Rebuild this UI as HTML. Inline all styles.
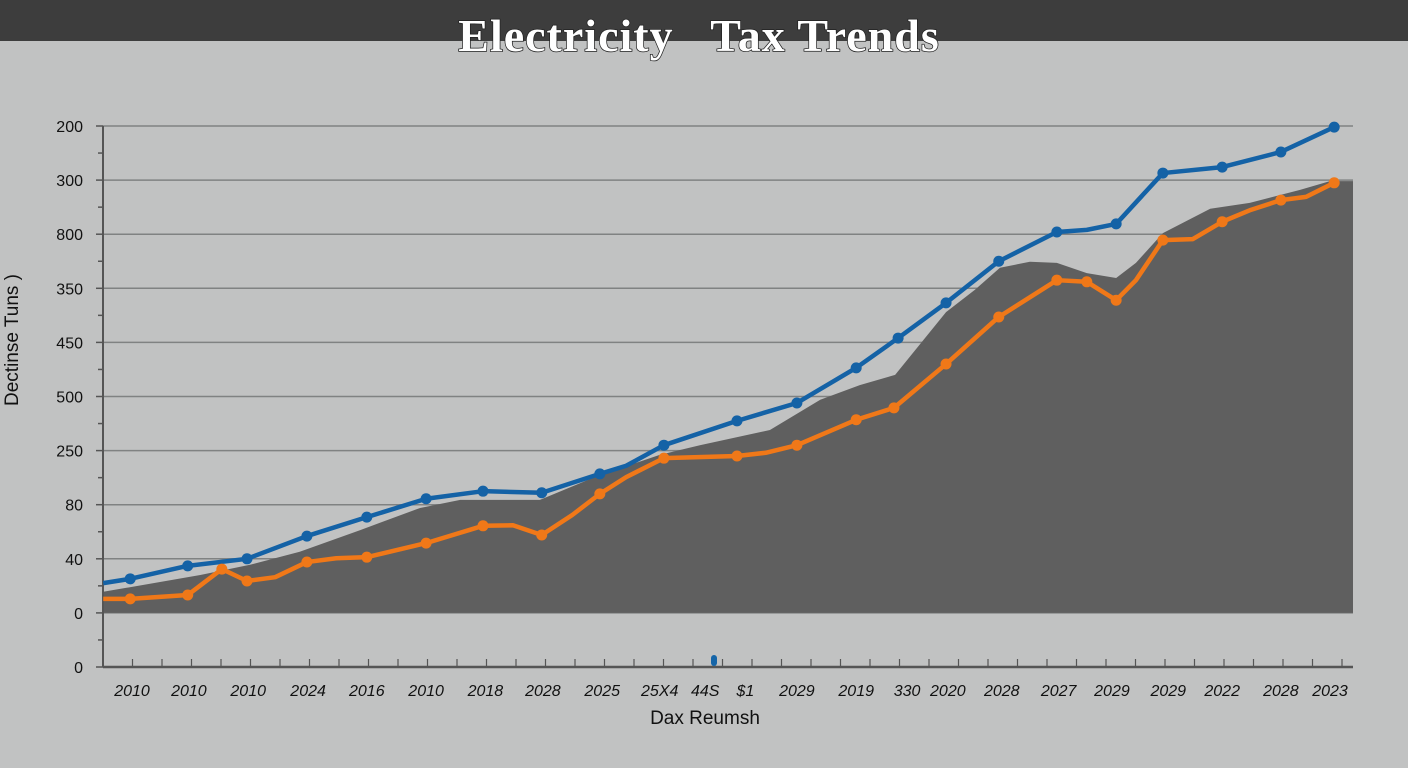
<!DOCTYPE html>
<html><head><meta charset="utf-8"><style>
html,body{margin:0;padding:0;width:1408px;height:768px;overflow:hidden;background:#c1c2c2;}
svg{display:block}
</style></head><body>
<svg id="chart" width="1408" height="768" xmlns="http://www.w3.org/2000/svg">
<rect x="0" y="0" width="1408" height="768" fill="#c1c2c2"/>
<rect x="0" y="0" width="1408" height="41" fill="#3d3d3d"/>
<text x="699" y="51" text-anchor="middle" font-family="Liberation Serif, serif" font-size="46" font-weight="bold" letter-spacing="1" fill="#fff" stroke="#222" stroke-width="1.5" paint-order="stroke" xml:space="preserve">Electricity   Tax Trends</text>
<g id="grid"></g>
<g id="area"></g>
<g id="axes"></g>
<g id="series"></g>
<text transform="translate(18,340) rotate(-90)" text-anchor="middle" font-family="Liberation Sans, sans-serif" font-size="19" fill="#111">Dectinse Tuns )</text>
<text x="705" y="724" text-anchor="middle" font-family="Liberation Sans, sans-serif" font-size="19" fill="#111">Dax Reumsh</text>
<rect x="711" y="655" width="6" height="11" rx="3" fill="#1565a8"/>
</svg>
<script>
const yTickLabels=["0","0","40","80","250","500","450","350","800","300","200"];
const xTickLabels=["2010","2010","2010","2024","2016","2010","2018","2028","2025","25X4","44S","$1","2029","2019","330","2020","2028","2027","2029","2029","2022","2028","2023"];
const xLabelPos=[0,0.95,1.94,2.94,3.92,4.91,5.9,6.86,7.85,8.81,9.57,10.24,11.1,12.09,12.94,13.62,14.52,15.47,16.36,17.3,18.2,19.18,20.0];
const blueT=[-0.48,-0.03,0.93,1.92,2.92,3.92,4.91,5.86,6.84,7.81,8.25,8.88,10.1,11.1,12.09,12.79,13.59,14.47,15.44,15.94,16.43,17.21,18.2,19.18,20.07];
const blueV=[15.5,16.3,18.7,20.0,24.2,27.7,31.1,32.5,32.2,35.7,37.2,41.0,45.5,48.8,55.3,60.8,67.3,75.0,80.4,80.8,81.9,91.3,92.4,95.2,99.8];
const blueM=[0,1,1,1,1,1,1,1,1,1,0,1,1,1,1,1,1,1,1,0,1,1,1,1,1];
const orangeT=[-0.48,-0.03,0.93,1.5,1.92,2.39,2.92,3.41,3.92,4.91,5.86,6.36,6.84,7.35,7.81,8.25,8.88,10.1,10.58,11.1,12.09,12.72,13.59,14.47,15.44,15.94,16.43,16.76,17.21,17.71,18.2,18.68,19.18,19.6,20.07];
const orangeV=[12.6,12.6,13.3,18.1,15.9,16.6,19.4,20.1,20.3,22.9,26.1,26.2,24.4,28.1,32.0,35.1,38.6,39.0,39.6,41.0,45.7,47.9,56.0,64.7,71.5,71.2,67.8,71.5,78.9,79.1,82.3,84.5,86.3,86.9,89.5];
const orangeM=[0,1,1,1,1,0,1,0,1,1,1,0,1,0,1,0,1,1,0,1,1,1,1,1,1,1,1,0,1,0,1,0,1,0,1];
const areaT=[-0.48,1.14,1.97,2.8,3.81,4.81,5.48,6.81,7.81,8.81,9.48,10.65,11.49,12.15,12.74,13.59,14.07,14.49,14.99,15.44,15.94,16.43,16.76,17.21,18.0,18.66,19.5,20.0,20.38];
const areaV=[13.9,17.0,18.9,21.3,25.3,29.4,30.9,30.9,35.5,39.2,41.0,43.8,49.4,52.1,54.0,65.6,69.7,73.8,74.9,74.7,72.8,71.9,74.7,80.2,84.7,85.8,88.2,89.8,89.8];
const areaBase=10;

const NS="http://www.w3.org/2000/svg";
const X0=103,X1=1353,YB=667,YT=126;
function xs(t){return 132+t*59.9;}
function ys(v){return YB-(v/100)*(YB-YT);}
function mk(tag,attrs,parent){const e=document.createElementNS(NS,tag);for(const k in attrs)e.setAttribute(k,attrs[k]);parent.appendChild(e);return e;}
const grid=document.getElementById('grid'),axes=document.getElementById('axes'),area=document.getElementById('area'),series=document.getElementById('series');

yTickLabels.forEach((lab,i)=>{
  const y=ys(i*10);
  if(i>0){const g=mk('line',{x1:X0,x2:X1,y1:y,y2:y,stroke:'#808282','stroke-width':1.5},grid);
  
  }
  const t=mk('line',{x1:X0-7,x2:X0,y1:y,y2:y,stroke:'#555','stroke-width':1.5},axes);
  
  
  if(i<10){const ym=ys(i*10+5);const m=mk('line',{x1:X0-5,x2:X0,y1:ym,y2:ym,stroke:'#555','stroke-width':1.5},axes);
  
  }
  const tx=mk('text',{x:X0-20,y:y+6,'text-anchor':'end','font-family':'Liberation Sans, sans-serif','font-size':16,fill:'#111'},axes);
  tx.textContent=lab;
  
  
});
const yl=mk('line',{x1:X0,x2:X0,y1:YT,y2:YB,stroke:'#555','stroke-width':2},axes);


const xl=mk('line',{x1:X0,x2:X1,y1:YB,y2:YB,stroke:'#555','stroke-width':2.5},axes);


for(let k=0;k<43;k++){const x=X0+29.5*(k+1);if(x>X1)break;
  const t=mk('line',{x1:x,x2:x,y1:YB-8,y2:YB,stroke:'#555','stroke-width':1.2},axes);
  
  }
xTickLabels.forEach((lab,i)=>{
  const tx=mk('text',{x:xs(xLabelPos[i]),y:696,'text-anchor':'middle','font-family':'Liberation Sans, sans-serif','font-size':16,'font-style':'italic',fill:'#111'},axes);
  tx.textContent=lab;
  
  
});

let d='M'+xs(areaT[0])+','+ys(areaBase);
areaT.forEach((t,i)=>{d+=' L'+xs(t)+','+ys(areaV[i]);});
d+=' L'+X1+','+ys(areaV[areaV.length-1])+' L'+X1+','+ys(areaBase)+' Z';
const ap=mk('path',{d:d,fill:'#5f5f5f'},area);



function drawSeries(T,V,M,color,name){
  const pts=T.map((t,i)=>xs(t)+','+ys(V[i])).join(' ');
  const pl=mk('polyline',{points:pts,fill:'none',stroke:color,'stroke-width':4.5,'stroke-linejoin':'round'},series);
  
  
  T.forEach((t,i)=>{if(!M[i])return;
    const c=mk('circle',{cx:xs(t),cy:ys(V[i]),r:5.5,fill:color},series);
    
    });
}
drawSeries(blueT,blueV,blueM,'#1462a6','blue-series');
drawSeries(orangeT,orangeV,orangeM,'#f07818','orange-series');
</script>
</body></html>
